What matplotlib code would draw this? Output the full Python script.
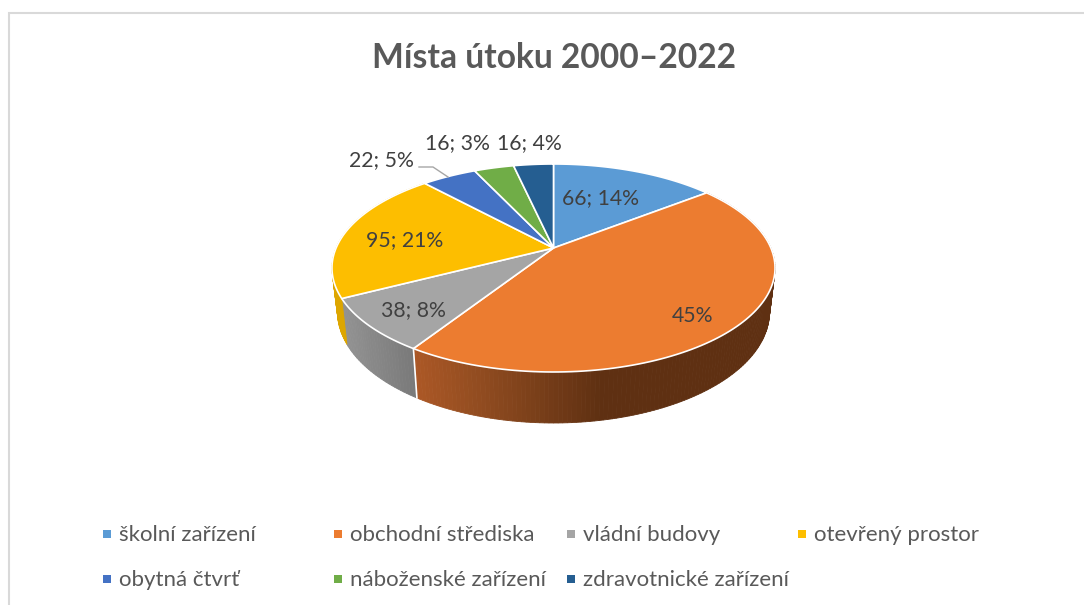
import numpy as np
import matplotlib
matplotlib.use('Agg')
import matplotlib.pyplot as plt

# data (obchodni strediska has only a percent label, so it is estimated)
kategorie = ['školní zařízení', 'obchodní střediska', 'vládní budovy', 'otevřený prostor',
             'obytná čtvrť', 'náboženské zařízení', 'zdravotnické zařízení']
hodnoty = [66, 204, 38, 95, 22, 16, 16]
popisky = ['66; 14%', '45%', '38; 8%', '95; 21%', '22; 5%', '16; 3%', '16; 4%']
barvy = ['#5B9BD5', '#EC7C30', '#A5A5A5', '#FDBE00', '#4472C4', '#70AD47', '#255E91']
nazev = 'Místa útoku 2000–2022'

plt.rcParams['font.family'] = ['Lato', 'DejaVu Sans']

fig = plt.figure(figsize=(10.84, 6.05), dpi=100)
ax = fig.add_axes([0, 0, 1, 1])
ax.set_xlim(0, 1084)
ax.set_ylim(605, 0)
ax.axis('off')

# ramecek grafu
ax.plot([9, 9, 1084], [605, 13, 13], color='#D9D9D9', lw=1.5, solid_joinstyle='miter')

# perspektivni projekce kruhu, uhel ve stupnich po smeru hodin od vrcholu
CX, CY = 553.5, 248
A, B, K = 217.4, 100.15, 0.1923


def horni(t):
    t = np.radians(t)
    u = np.sin(t)
    w = -np.cos(t)
    d = 1 - K * w
    return CX + A * u / d, CY + B * w / d


def dolni(t):
    x, y = horni(t)
    return CX + 0.975 * (x - CX), 423 - 1.068 * (372 - y)


def bok_barva(i, x):
    # bok tmavne smerem doprava
    if i == 1:
        r = np.interp(x, [415, 480, 600, 775], [172, 145, 95, 95])
        g = np.interp(x, [415, 480, 600, 775], [88, 76, 48, 48])
        b = np.interp(x, [415, 480, 600, 775], [38, 32, 18, 18])
    elif i == 2:
        r = g = b = np.interp(x, [346, 418], [146, 120])
    else:
        return '#DDA600'
    return (r / 255, g / 255, b / 255)


hranice = np.cumsum([0] + hodnoty) / sum(hodnoty) * 360

# boky, viditelne jen u tri vysecu
for i in [1, 2, 3]:
    kroky = np.arange(hranice[i], hranice[i + 1], 1.0).tolist() + [hranice[i + 1]]
    for a, b in zip(kroky[:-1], kroky[1:]):
        xa, ya = horni(a)
        xb, yb = horni(b)
        xc, yc = dolni(b)
        xd, yd = dolni(a)
        c = bok_barva(i, (xa + xb + xc + xd) / 4)
        ax.fill([xa, xb, xc, xd], [ya, yb, yc, yd], color=c, lw=0.6)

# bila hrana na boku mezi oranzovou a sedou
xa, ya = horni(hranice[2])
xb, yb = dolni(hranice[2])
ax.plot([xa, xb], [ya, yb], color='white', lw=1.2)

# horni plocha
for i, barva in enumerate(barvy):
    t = np.linspace(hranice[i], hranice[i + 1], 120)
    x, y = horni(t)
    ax.fill(np.r_[CX, x], np.r_[CY, y], facecolor=barva, edgecolor='white', lw=1.2,
            joinstyle='round')

# popisky
pozice = [(601, 198), (693, 316), (413, 310), (405, 240), (381, 160), (457, 143), (529, 143)]
for text, (x, y) in zip(popisky, pozice):
    ax.text(x, y, text, ha='center', va='center', fontsize=15.3, color='#404040')

# vodici cara k obytne ctvrti
ax.plot([419, 433, 448], [167, 167, 177], color='#A6A6A6', lw=1)

ax.text(553.5, 58, nazev, ha='center', va='center', fontsize=24.2, fontweight='bold', color='#595959')

# legenda
leg_x = [103, 334, 567, 798, 103, 334, 567]
leg_y = [534, 534, 534, 534, 579, 579, 579]
for text, barva, x, y in zip(kategorie, barvy, leg_x, leg_y):
    ax.scatter([x + 4], [y], marker='s', s=26, color=barva, linewidths=0)
    ax.text(x + 16, y + 1, text, ha='left', va='center', fontsize=16, color='#595959')

fig.savefig('out.png', dpi=100)
